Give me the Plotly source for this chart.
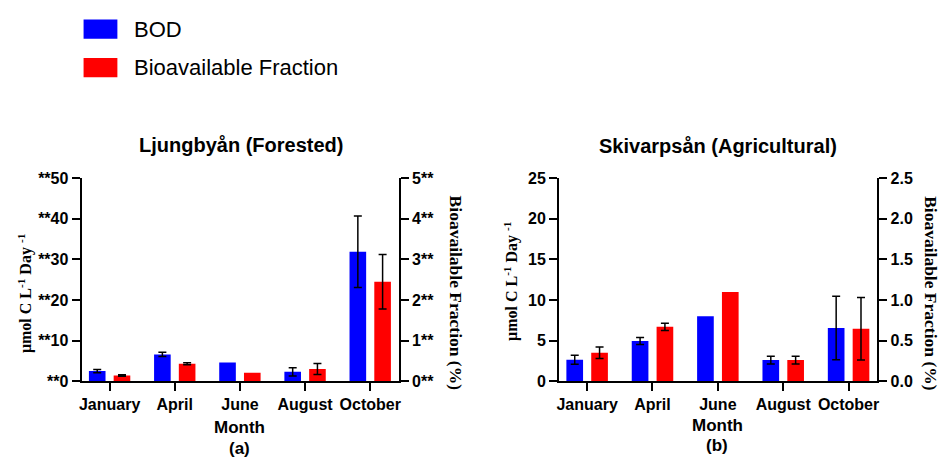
import plotly.graph_objects as go

# ---------------- data ----------------
months = ["January", "April", "June", "August", "October"]

# Ljungbyån (Forested)
bod_forest = [2.5, 6.6, 4.6, 2.3, 31.9]
bod_forest_err = [0.4, 0.5, None, 1.0, 8.8]
frac_forest = [0.14, 0.43, 0.21, 0.30, 2.45]
frac_forest_err = [0.02, 0.025, None, 0.135, 0.67]

# Skivarpsån (Agricultural)
bod_agri = [2.65, 4.95, 8.0, 2.6, 6.55]
bod_agri_err = [0.55, 0.42, None, 0.47, 3.9]
frac_agri = [0.35, 0.67, 1.10, 0.26, 0.645]
frac_agri_err = [0.07, 0.045, None, 0.047, 0.385]

# tick labels
forest_left_vals = [0, 10, 20, 30, 40, 50]
forest_left_text = ["**0", "**10", "**20", "**30", "**40", "**50"]
forest_right_vals = [0, 1, 2, 3, 4, 5]
forest_right_text = ["0**", "1**", "2**", "3**", "4**", "5**"]
agri_left_vals = [0, 5, 10, 15, 20, 25]
agri_left_text = ["0", "5", "10", "15", "20", "25"]
agri_right_vals = [0.0, 0.5, 1.0, 1.5, 2.0, 2.5]
agri_right_text = ["0.0", "0.5", "1.0", "1.5", "2.0", "2.5"]

series_names = ["BOD", "Bioavailable Fraction"]
panel_titles = ["Ljungbyån (Forested)", "Skivarpsån (Agricultural)"]
panel_labels = ["(a)", "(b)"]
x_title = "Month"
left_title = "μmol C L<sup>-1</sup> Day <sup>-1</sup>"
right_title = "Bioavailable Fraction (%)"

BLUE = "#0000FF"
RED = "#FF0000"
W, H = 943, 465
SANS = "Liberation Sans, Arial, sans-serif"
SERIF = "Liberation Serif, Times New Roman, serif"

BAR_W = 0.255
OFF = 0.19

fig = go.Figure()


def err(arr):
    # missing error values -> "NaN" so that no error bar is drawn
    vals = ["NaN" if v is None else v for v in arr]
    return dict(type="data", array=vals, color="black", thickness=1.5, width=4, visible=True)


def add_panel(xa, ya_l, ya_r, bod, bod_e, frac, frac_e):
    fig.add_trace(go.Bar(
        x=months, y=bod, name=series_names[0], marker_color=BLUE,
        marker_line_width=0, width=BAR_W, offset=-OFF - BAR_W / 2,
        error_y=err(bod_e), xaxis=xa, yaxis=ya_l, showlegend=False))
    fig.add_trace(go.Bar(
        x=months, y=frac, name=series_names[1], marker_color=RED,
        marker_line_width=0, width=BAR_W, offset=OFF - BAR_W / 2,
        error_y=err(frac_e), xaxis=xa, yaxis=ya_r, showlegend=False))


add_panel("x", "y", "y2", bod_forest, bod_forest_err, frac_forest, frac_forest_err)
add_panel("x2", "y3", "y4", bod_agri, bod_agri_err, frac_agri, frac_agri_err)

tickfont = dict(family=SANS, size=16, color="black", weight="bold")
ydom = [0.167, 0.620]


def xaxis(dom, anchor):
    return dict(domain=dom, anchor=anchor, type="category", range=[-0.43, 4.44],
                showline=True, linecolor="black", linewidth=2, ticks="outside",
                ticklen=8, tickwidth=2, tickcolor="black", tickfont=tickfont,
                showgrid=False, zeroline=False, fixedrange=True)


def yaxis(rng, vals, text, anchor, side, overlay=None):
    d = dict(domain=ydom, anchor=anchor, range=rng, tickvals=vals, ticktext=text,
             side=side, showline=True, linecolor="black", linewidth=2,
             ticks="outside", ticklen=8, tickwidth=2, tickcolor="black",
             tickfont=tickfont, showgrid=False, zeroline=False)
    if overlay:
        d["overlaying"] = overlay
    return d


xd1 = [79 / W, 398 / W]
xd2 = [559 / W, 879 / W]

fig.update_layout(
    width=W, height=H, margin=dict(l=0, r=0, t=0, b=0),
    paper_bgcolor="white", plot_bgcolor="white", showlegend=False,
    barmode="overlay",
    xaxis=xaxis(xd1, "y"),
    yaxis=yaxis([0, 50], forest_left_vals, forest_left_text, "x", "left"),
    yaxis2=yaxis([0, 5], forest_right_vals, forest_right_text, "x", "right", "y"),
    xaxis2=xaxis(xd2, "y3"),
    yaxis3=yaxis([0, 25], agri_left_vals, agri_left_text, "x2", "left"),
    yaxis4=yaxis([0, 2.5], agri_right_vals, agri_right_text, "x2", "right", "y3"),
)


def px_x(v):
    return v / W


def px_y(v):
    return 1 - v / H


ann = []
# panel titles
for cx, cy, t in [(239, 142, panel_titles[0]), (719, 143, panel_titles[1])]:
    ann.append(dict(x=px_x(cx), y=px_y(cy), text=t, showarrow=False, xref="paper", yref="paper",
                    xanchor="center", yanchor="middle",
                    font=dict(family=SANS, size=20, color="black", weight="bold")))
# Month + (a)/(b)
for cx, cy, cy2, lab in [(238, 435, 457, panel_labels[0]), (718, 433, 454, panel_labels[1])]:
    ann.append(dict(x=px_x(cx), y=px_y(cy), text=x_title, showarrow=False, xref="paper", yref="paper",
                    xanchor="center", yanchor="middle",
                    font=dict(family=SANS, size=17, color="black", weight="bold")))
    ann.append(dict(x=px_x(cx), y=px_y(cy2), text=lab, showarrow=False, xref="paper", yref="paper",
                    xanchor="center", yanchor="middle",
                    font=dict(family=SANS, size=17, color="black", weight="bold")))
# left axis titles
for cx, cy in [(22, 296), (511, 283)]:
    ann.append(dict(x=px_x(cx), y=px_y(cy), text=left_title, showarrow=False, xref="paper", yref="paper",
                    xanchor="center", yanchor="middle", textangle=-90,
                    font=dict(family=SERIF, size=16, color="black", weight="bold")))
# right axis titles
for cx, cy in [(455, 296), (933, 296)]:
    ann.append(dict(x=px_x(cx), y=px_y(cy), text=right_title, showarrow=False, xref="paper", yref="paper",
                    xanchor="center", yanchor="middle", textangle=90,
                    font=dict(family=SERIF, size=17.5, color="black", weight="bold")))

# legend (manual, to match the large swatches)
shapes = []
for (y0, y1, col, name) in [(12, 32, BLUE, series_names[0]), (52, 72, RED, series_names[1])]:
    shapes.append(dict(type="rect", xref="paper", yref="paper",
                       x0=px_x(81), x1=px_x(115), y0=px_y(y1), y1=px_y(y0),
                       fillcolor=col, line=dict(width=0)))
    ann.append(dict(x=px_x(130), y=px_y((y0 + y1) / 2), text=name, showarrow=False,
                    xref="paper", yref="paper", xanchor="left", yanchor="middle",
                    font=dict(family=SANS, size=22, color="black")))

fig.update_layout(annotations=ann, shapes=shapes)

fig.write_html("out.html")
